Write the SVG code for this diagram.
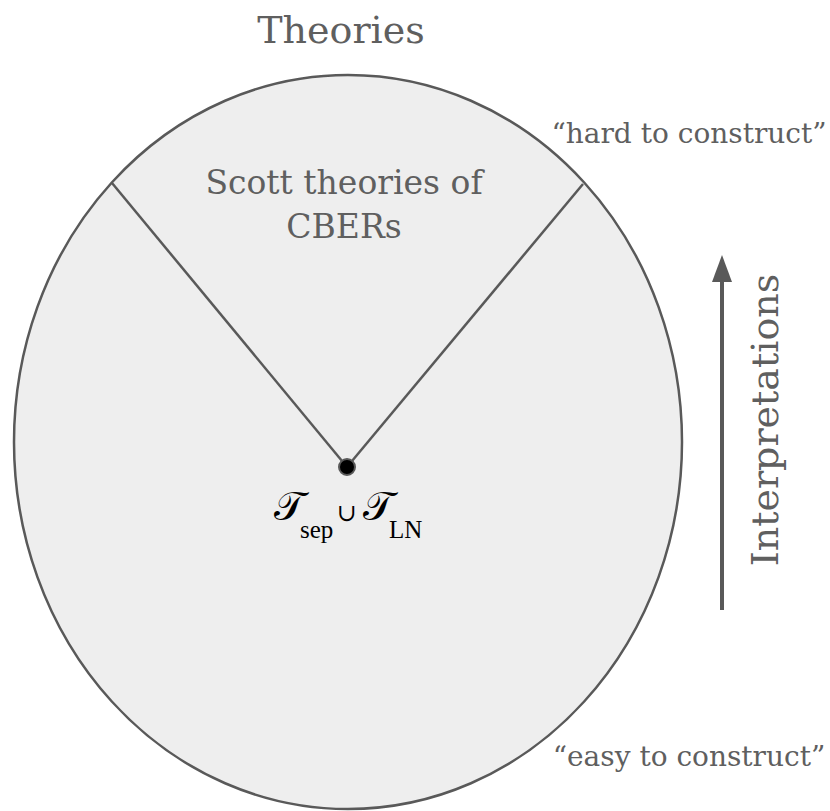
<svg xmlns="http://www.w3.org/2000/svg" width="830" height="811" viewBox="0 0 830 811">
<defs>
<style>
.lbl{font-family:"DejaVu Serif","Liberation Serif",serif;fill:#5f5f5f}
.edge{stroke:#595959;stroke-width:2.5;fill:none}
.math{font-family:"DejaVu Serif","Liberation Serif",serif;fill:#000}
.sub{font-family:"Liberation Serif","DejaVu Serif",serif;fill:#000}
</style>
</defs>
<rect width="830" height="811" fill="#ffffff"/>
<g id="theories">
<ellipse cx="348" cy="442" rx="334" ry="367" fill="#eeeeee" stroke="#595959" stroke-width="2.5"/>
<text class="lbl" x="341" y="43" font-size="38" text-anchor="middle">Theories</text>
</g>
<g id="connectors">
<line class="edge" x1="347" y1="467" x2="112" y2="183"/>
<line class="edge" x1="347" y1="467" x2="583" y2="184"/>
<line x1="722" y1="610" x2="722" y2="280" stroke="#595959" stroke-width="4"/>
<path d="M712,282 L722,255 L732,282 Z" fill="#595959"/>
</g>
<g id="scott">
<text class="lbl" font-size="33" text-anchor="middle"><tspan x="344" y="194">Scott theories of</tspan><tspan x="344" y="238">CBERs</tspan></text>
</g>
<g id="center-node">
<circle cx="347" cy="467" r="8" fill="#000" stroke="#595959" stroke-width="2"/>
<text class="math" x="274" y="520" font-size="40">𝒯</text>
<text class="sub" x="300" y="538" font-size="25">sep</text>
<text class="math" x="337" y="521" font-size="24">∪</text>
<text class="math" x="363" y="520" font-size="40">𝒯</text>
<text class="sub" x="389" y="538" font-size="25">LN</text>
</g>
<g id="hard">
<text class="lbl" x="689" y="143" font-size="28" text-anchor="middle">“hard to construct”</text>
</g>
<g id="easy">
<text class="lbl" x="689" y="766" font-size="28" text-anchor="middle">“easy to construct”</text>
</g>
<g id="interpretations">
<text class="lbl" x="0" y="0" font-size="38" text-anchor="middle" transform="translate(778,420) rotate(-90)">Interpretations</text>
</g>
</svg>
